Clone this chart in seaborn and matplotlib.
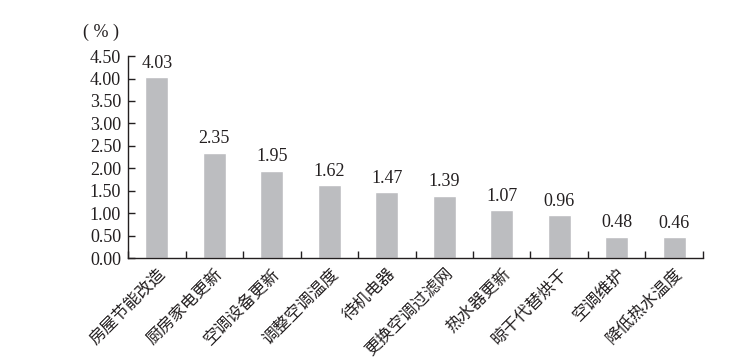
import pandas as pd
import matplotlib.pyplot as plt
import seaborn as sns

categories = ['房屋节能改造', '厨房家电更新', '空调设备更新', '调整空调温度', '待机电器',
              '更换空调过滤网', '热水器更新', '晾干代替烘干', '空调维护', '降低热水温度']
values = [4.03, 2.35, 1.95, 1.62, 1.47, 1.39, 1.07, 0.96, 0.48, 0.46]
yticks = [0.0, 0.5, 1.0, 1.5, 2.0, 2.5, 3.0, 3.5, 4.0, 4.5]

sns.set_theme(style='white')
plt.rcParams['font.family'] = ['Liberation Serif', 'Noto Sans CJK SC', 'DejaVu Sans']

df = pd.DataFrame({'cat': categories, 'val': values})

fig = plt.figure(figsize=(7.5, 3.64), dpi=100)
ax = fig.add_axes([0.1707, 0.291, 0.7666, 0.555])

sns.barplot(data=df, x='cat', y='val', color='#bcbdc0', saturation=1, width=0.405, ax=ax)

for i, v in enumerate(values):
    ax.text(i, v + 0.12, f'{v:.2f}', ha='center', va='bottom', fontsize=13, color='#231f20')

ax.set_ylim(0, 4.5)
ax.set_xlim(-0.5, len(categories) - 0.5)
ax.set_yticks(yticks)
ax.set_yticklabels([f'{t:.2f}' for t in yticks], fontsize=13, color='#231f20')
ax.set_xticks(range(len(categories)))
ax.set_xticklabels(categories, rotation=45, ha='right', rotation_mode='anchor',
                   fontsize=12, color='#231f20', family=['Noto Sans CJK SC'])
ax.set_xticks([i - 0.5 for i in range(len(categories) + 1)], minor=True)
ax.tick_params(axis='x', which='major', length=0, pad=5)
ax.tick_params(axis='x', which='minor', direction='in', length=5, width=1, color='#231f20', bottom=True)
ax.tick_params(axis='y', direction='in', length=5, width=1, color='#231f20', left=True, pad=5)
ax.set_xlabel('')
ax.set_ylabel('')
for side in ['top', 'right']:
    ax.spines[side].set_visible(False)
for side in ['left', 'bottom']:
    ax.spines[side].set_color('#231f20')
    ax.spines[side].set_linewidth(1)

fig.text(0.135, 0.91, '( % )', ha='center', va='center', fontsize=13, color='#231f20')

plt.savefig('out.png', dpi=100)
